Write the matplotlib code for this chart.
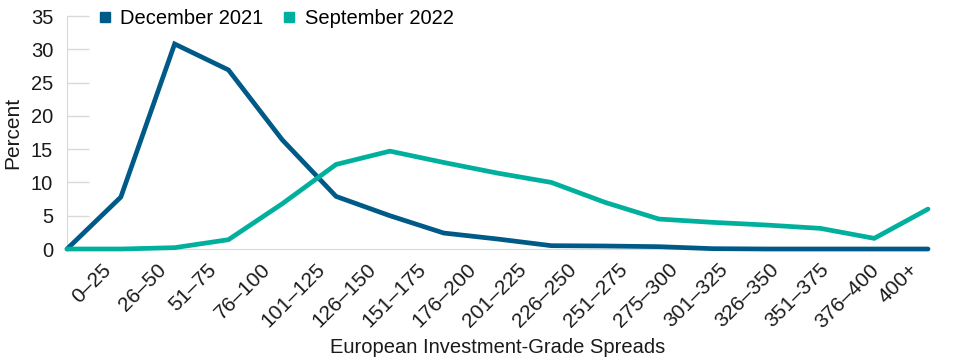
import matplotlib
matplotlib.use("Agg")
import matplotlib.pyplot as plt
import matplotlib.transforms as mtransforms
from matplotlib.lines import Line2D

plt.rcParams['font.family'] = ['Liberation Sans', 'DejaVu Sans']

categories = ["0–25", "26–50", "51–75", "76–100", "101–125", "126–150", "151–175",
              "176–200", "201–225", "226–250", "251–275", "275–300", "301–325",
              "326–350", "351–375", "376–400", "400+"]
dec_2021 = [0, 7.8, 30.8, 26.9, 16.4, 7.9, 5.0, 2.4, 1.5, 0.5, 0.45, 0.35, 0.05, 0, 0, 0, 0]
sep_2022 = [0, 0, 0.2, 1.4, 6.8, 12.7, 14.7, 13.0, 11.4, 10.0, 7.0, 4.5, 4.0, 3.6, 3.1, 1.6, 6.0]
series_names = ["December 2021", "September 2022"]
colors = ["#005a87", "#00b09d"]
TXT = '#1a1a1a'

W, H, DPI = 9.6, 3.59, 100
fig = plt.figure(figsize=(W, H), dpi=DPI)
ax = fig.add_axes([0.0698, 0.3064, 0.8969, 0.6490])

x = list(range(len(categories)))
for vals, c in zip([dec_2021, sep_2022], colors):
    ax.plot(x, vals, color=c, lw=3.4, solid_joinstyle='miter', solid_capstyle='round',
            zorder=3, clip_on=False)

ax.set_xlim(0, len(categories) - 1)
ax.set_ylim(0, 35)
ax.set_yticks(range(0, 36, 5))
ax.tick_params(axis='y', direction='in', length=16, width=1, color='#d9d9d9',
               labelsize=14.5, labelcolor=TXT, pad=10)
ax.set_xticks(x)
ax.set_xticklabels(categories, rotation=45, ha='center', va='top')
ax.tick_params(axis='x', length=0, labelsize=15, labelcolor=TXT, pad=8)

# Labels are spread slightly narrower than the category positions (as in reference)
ax_w_px = 0.8969 * W * DPI
n = len(categories)
start_frac, end_frac = 0.029, 0.965
for i, lab in enumerate(ax.get_xticklabels()):
    target = (start_frac + i * (end_frac - start_frac) / (n - 1)) * ax_w_px
    actual = i / (n - 1) * ax_w_px
    dx = (target - actual) / DPI
    lab.set_transform(lab.get_transform() + mtransforms.ScaledTranslation(dx, 0, fig.dpi_scale_trans))

for s in ['top', 'right']:
    ax.spines[s].set_visible(False)
ax.spines['left'].set_color('#d9d9d9')
ax.spines['bottom'].set_color('#d9d9d9')

ax.set_ylabel("Percent", fontsize=15, color=TXT, labelpad=6)
ax.set_xlabel("European Investment-Grade Spreads", fontsize=14.5, color=TXT, va='center')
ax.xaxis.set_label_coords(0.5, -0.422)

handles = [Line2D([], [], marker='s', color=c, lw=0, markersize=7.5) for c in colors]
ax.legend(handles, series_names, loc='center left', bbox_to_anchor=(0.037, 0.99), ncol=2,
          frameon=False, fontsize=14.5, handlelength=0.6, handletextpad=0.45, columnspacing=1.0,
          borderaxespad=0, borderpad=0)

fig.savefig("out.png", dpi=DPI)
